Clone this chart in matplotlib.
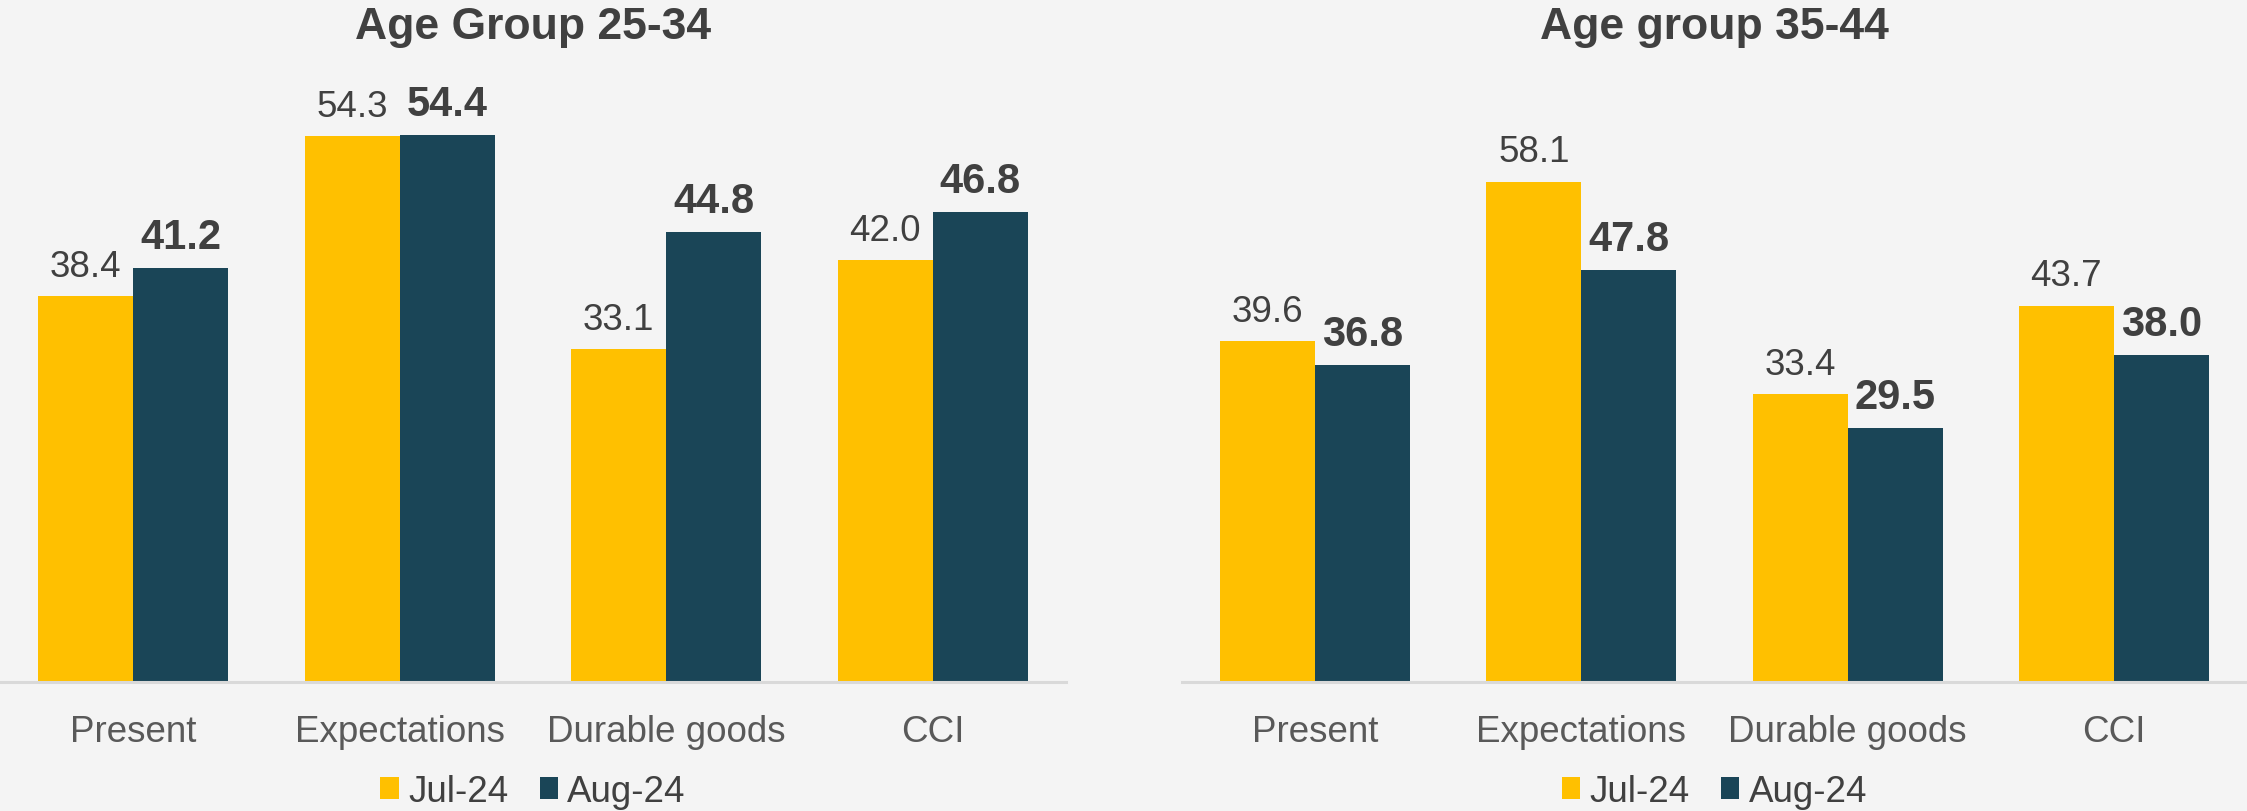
import matplotlib
matplotlib.use('Agg')
import matplotlib.pyplot as plt
import numpy as np

plt.rcParams['font.family'] = ['Liberation Sans', 'DejaVu Sans']

# survey sub-indices per age group
categories = ['Present', 'Expectations', 'Durable goods', 'CCI']
series_names = ['Jul-24', 'Aug-24']
age_25_34_jul = [38.4, 54.3, 33.1, 42.0]
age_25_34_aug = [41.2, 54.4, 44.8, 46.8]
age_35_44_jul = [39.6, 58.1, 33.4, 43.7]
age_35_44_aug = [36.8, 47.8, 29.5, 38.0]

bg = '#F4F4F4'
c_jul = '#FFC000'
c_aug = '#1A4557'
txt = '#404040'

fig = plt.figure(figsize=(22.47, 8.12), dpi=100, facecolor=bg)

W, H = 2247.0, 812.0
ax_bottom = 1 - 683 / H
ax_height = 603 / H
ax1 = fig.add_axes([0, ax_bottom, 1066 / W, ax_height])
ax2 = fig.add_axes([1182 / W, ax_bottom, 1065 / W, ax_height])


def draw_panel(ax, jul, aug, title, ymax):
    ax.set_facecolor(bg)
    x = np.arange(len(categories))
    w = 95 / 266.0
    b1 = ax.bar(x - w / 2, jul, w, color=c_jul, label=series_names[0])
    b2 = ax.bar(x + w / 2, aug, w, color=c_aug, label=series_names[1])
    for rect, v in zip(b1, jul):
        ax.annotate('%.1f' % v, (rect.get_x() + rect.get_width() / 2, v),
                    xytext=(0, 14.5), textcoords='offset points',
                    ha='center', va='baseline', fontsize=26.5, color=txt)
    for rect, v in zip(b2, aug):
        ax.annotate('%.1f' % v, (rect.get_x() + rect.get_width() / 2, v),
                    xytext=(0, 14.5), textcoords='offset points',
                    ha='center', va='baseline', fontsize=30,
                    fontweight='bold', color=txt)
    ax.set_xlim(-0.5, len(categories) - 0.5)
    ax.set_ylim(0, ymax)
    ax.set_xticks(x)
    ax.set_xticklabels(categories, fontsize=26.5, color='#595959')
    ax.tick_params(axis='x', length=0, pad=23)
    ax.set_yticks([])
    for s in ['top', 'right', 'left']:
        ax.spines[s].set_visible(False)
    ax.spines['bottom'].set_color('#D9D9D9')
    ax.spines['bottom'].set_linewidth(2.2)
    ax.annotate(title, (0.5, 1), xycoords='axes fraction',
                xytext=(0, 29.5), textcoords='offset points',
                ha='center', va='baseline', fontsize=32,
                fontweight='bold', color=txt)
    ax.legend(loc='lower center', bbox_to_anchor=(0.5, -0.211), ncol=2,
              frameon=False, fontsize=26.5, labelcolor=txt,
              handlelength=0.5, handleheight=0.55, handletextpad=0.25,
              columnspacing=0.85, borderpad=0, borderaxespad=0)


draw_panel(ax1, age_25_34_jul, age_25_34_aug, 'Age Group 25-34', 60)
draw_panel(ax2, age_35_44_jul, age_35_44_aug, 'Age group 35-44', 70)

fig.savefig('out.png', dpi=100, facecolor=bg)
